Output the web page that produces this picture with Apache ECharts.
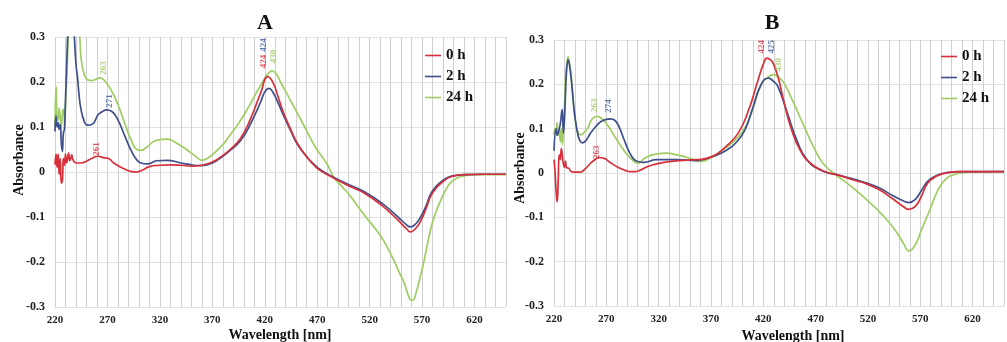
<!DOCTYPE html>
<html>
<head>
<meta charset="utf-8">
<script src="https://cdn.jsdelivr.net/npm/echarts@6/dist/echarts.min.js"></script>
<style>
html,body{margin:0;padding:0;background:#fff;}
#chart{width:1007px;height:342px;}
</style>
</head>
<body>
<div id="chart"></div>
<script>
// ---------- DATA ----------
const seriesNames = ['0 h', '2 h', '24 h'];
const xTickStep = 10;      // nm between gridlines
const xLabelStep = 50;     // nm between labels
const xMin = 220, xMax = 650;
const yMin = -0.3, yMax = 0.3, yStep = 0.1;

// Panel A
const A_0h = [[220,0.016],[221,0.04],[222,0.01],[223,0.04],[224,-0.005],[225,0.03],[226,-0.025],[227,-0.02],[228,0.03],[229,0.015],[230,0.04],[231,0.02],[233,0.042],[234,0.025],[235,0.03],[236,0.038],[237,0.028],[240,0.02],[245,0.02],[250,0.024],[255,0.03],[261,0.035],[266,0.032],[271,0.03],[276,0.02],[281,0.013],[287,0.006],[293,0.001],[298,0.0],[303,0.004],[310,0.012],[320,0.015],[330,0.016],[340,0.015],[350,0.013],[360,0.015],[370,0.022],[380,0.037],[387,0.05],[397,0.075],[406,0.116],[416,0.175],[423,0.212],[428,0.198],[433,0.165],[438,0.131],[445,0.093],[451,0.064],[460,0.034],[467,0.015],[473,0.003],[486,-0.014],[502,-0.033],[515,-0.047],[531,-0.073],[547,-0.107],[555,-0.126],[559,-0.133],[564,-0.125],[569,-0.107],[574,-0.08],[578,-0.055],[583,-0.037],[588,-0.025],[598,-0.01],[610,-0.006],[630,-0.005],[650,-0.005]];
const A_2h = [[220,0.09],[221,0.124],[222,0.1],[223,0.11],[224,0.095],[225,0.105],[226,0.064],[227,0.046],[228,0.087],[229,0.095],[230,0.16],[232,0.3],[234,0.42],[236,0.4],[238,0.32],[240,0.24],[241.5,0.209],[243,0.17],[244.6,0.142],[247.8,0.113],[251,0.104],[256,0.107],[261,0.127],[265,0.134],[269,0.138],[274,0.135],[280,0.116],[286,0.083],[293,0.046],[298,0.027],[302,0.02],[308,0.018],[317,0.025],[327,0.026],[340,0.02],[350,0.016],[359,0.014],[370,0.02],[380,0.035],[387,0.048],[397,0.07],[406,0.105],[416,0.155],[420,0.178],[424,0.186],[428,0.176],[433,0.152],[438,0.125],[445,0.09],[451,0.062],[460,0.034],[467,0.017],[473,0.005],[486,-0.012],[502,-0.03],[515,-0.044],[531,-0.068],[547,-0.1],[555,-0.117],[559,-0.122],[564,-0.115],[569,-0.098],[574,-0.074],[578,-0.05],[583,-0.033],[588,-0.022],[598,-0.009],[610,-0.006],[630,-0.005],[650,-0.005]];
const A_24h = [[220,0.1],[221,0.19],[222,0.12],[223,0.115],[224,0.142],[225,0.12],[226,0.1],[227,0.13],[228,0.14],[229,0.11],[230,0.15],[231,0.2],[233,0.32],[235,0.44],[238,0.45],[241,0.36],[243.6,0.3],[245,0.25],[248,0.216],[251,0.205],[255,0.203],[259,0.206],[263,0.209],[267,0.204],[274,0.18],[280,0.15],[287,0.105],[293,0.069],[298,0.05],[302,0.048],[308,0.056],[317,0.071],[327,0.073],[336,0.064],[346,0.049],[355,0.033],[360,0.026],[366,0.031],[378,0.056],[387,0.082],[395,0.108],[403,0.138],[411,0.172],[419,0.204],[423,0.218],[427,0.225],[431,0.218],[435,0.2],[443,0.166],[451,0.131],[459,0.096],[467,0.06],[470,0.049],[475,0.033],[480,0.015],[486,-0.012],[494,-0.033],[502,-0.055],[515,-0.096],[531,-0.144],[543,-0.196],[548,-0.222],[553,-0.247],[556,-0.268],[559,-0.284],[561,-0.285],[564,-0.27],[568,-0.235],[572,-0.196],[578,-0.129],[583,-0.09],[588,-0.062],[593,-0.038],[598,-0.022],[607,-0.01],[620,-0.006],[650,-0.006]];

// Panel B
const B_0h = [[220,0.03],[221,0.004],[222,-0.04],[223,-0.065],[224,-0.02],[225,0.041],[226,0.03],[227,0.055],[228,0.04],[229,0.02],[230,0.013],[231,0.027],[232,0.012],[234,0.011],[236,0.004],[240,0.002],[245,0.002],[250,0.01],[255,0.022],[259,0.03],[263,0.035],[268,0.033],[274,0.023],[281,0.013],[288,0.006],[293,0.003],[297,0.003],[303,0.007],[309,0.014],[317,0.02],[325,0.024],[340,0.028],[356,0.03],[371,0.037],[384,0.059],[396,0.09],[406,0.142],[415,0.21],[420,0.245],[423.5,0.259],[427,0.255],[429.4,0.248],[434,0.217],[440,0.158],[446,0.105],[455,0.052],[465,0.022],[477,0.005],[493,-0.006],[508,-0.017],[518,-0.024],[531,-0.038],[543,-0.057],[554,-0.076],[559,-0.082],[565,-0.076],[571,-0.053],[577,-0.023],[585,-0.008],[596,0.001],[608,0.003],[650,0.003]];
const B_2h = [[220,0.05],[222,0.1],[223,0.085],[225,0.1],[226,0.11],[227.8,0.143],[229,0.09],[230,0.12],[231,0.18],[232,0.23],[233.5,0.255],[235,0.24],[237,0.2],[239,0.148],[241,0.11],[243,0.085],[245,0.072],[247,0.068],[250,0.072],[255,0.09],[260,0.105],[265,0.116],[270,0.121],[274,0.122],[278,0.119],[282,0.105],[287,0.075],[292,0.047],[296,0.032],[300,0.026],[306,0.024],[318,0.03],[337,0.03],[356,0.028],[371,0.037],[384,0.05],[396,0.074],[403,0.1],[409,0.14],[418,0.2],[425,0.214],[430,0.206],[434,0.195],[443,0.135],[452,0.074],[462,0.029],[477,0.004],[493,-0.005],[508,-0.015],[518,-0.022],[531,-0.034],[543,-0.05],[554,-0.063],[559,-0.067],[565,-0.06],[571,-0.04],[577,-0.019],[585,-0.006],[596,0.001],[608,0.003],[650,0.003]];
const B_24h = [[220,0.086],[221,0.1],[222,0.095],[223,0.113],[224,0.085],[225,0.1],[226,0.07],[227,0.1],[228,0.064],[229,0.1],[230,0.15],[231,0.214],[232.5,0.25],[233.5,0.262],[235,0.245],[236,0.23],[238.7,0.154],[241,0.109],[243.4,0.09],[246,0.086],[249,0.092],[252,0.1],[256,0.12],[261,0.128],[265,0.124],[271,0.109],[277,0.086],[283,0.064],[290,0.041],[296,0.027],[300,0.022],[307,0.034],[318,0.043],[328,0.045],[337,0.041],[346,0.036],[356,0.028],[360,0.026],[368,0.032],[381,0.052],[393,0.074],[403,0.104],[410,0.145],[418,0.2],[424,0.215],[430,0.222],[435,0.215],[440,0.202],[449,0.158],[459,0.105],[468,0.059],[477,0.022],[487,0.0],[496,-0.016],[508,-0.038],[521,-0.065],[534,-0.095],[546,-0.129],[554,-0.159],[559,-0.176],[565,-0.163],[571,-0.129],[579,-0.084],[587,-0.038],[595,-0.012],[602,-0.004],[615,0.002],[650,0.003]];

// Peak annotations: [text, wavelength, absorbance position, series index]
const peaksA = [['261',259.4,0.051,0],['271',272.2,0.158,1],['263',266.2,0.231,2],['424',418.6,0.282,1],['424',418.6,0.2456,0],['430',428.1,0.2567,2]];
const peaksB = [['263',259.3,0.153,2],['274',272.3,0.151,1],['263',261.1,0.047,0],['424',418.8,0.285,0],['425',428.1,0.285,1],['430',434.3,0.244,2]];

const panelTitles = ['A', 'B'];
const xAxisTitle = 'Wavelength [nm]';
const yAxisTitle = 'Absorbance';

// ---------- STYLE ----------
const colors = ['#d7303a', '#3e4f8b', '#9fcd62'];
const labelColors = ['#d23040', '#3e5a9a', '#9cc85c'];
const serif = "'Liberation Serif','Times New Roman',serif";

const chart = echarts.init(document.getElementById('chart'), null, {renderer:'canvas'});

function xAxisFor(gi){
  return {
    type:'value', gridIndex:gi, min:xMin, max:xMax, interval:xTickStep,
    axisLine:{show:false}, axisTick:{show:false},
    axisLabel:{
      margin:8, color:'#222', fontFamily:serif, fontWeight:'bold', fontSize:11,
      formatter: v => ((v - xMin) % xLabelStep === 0 && v < xMax) ? String(v) : ''
    },
    splitLine:{show:true, lineStyle:{color:'#d0d0d0', width:1}}
  };
}
function yAxisFor(gi){
  return {
    type:'value', gridIndex:gi, min:yMin, max:yMax, interval:yStep,
    axisLine:{show:false}, axisTick:{show:false},
    axisLabel:{
      margin:10, color:'#222', fontFamily:serif, fontWeight:'bold', fontSize:12,
      formatter: v => { const r = Math.round(v*10)/10; return r === 0 ? '0' : r.toFixed(1); }
    },
    splitLine:{show:true, lineStyle:{color:'#e2e2e2', width:1}}
  };
}
function lineSeries(name, data, ci, gi){
  return {
    type:'line', name:name, data:data, xAxisIndex:gi, yAxisIndex:gi,
    smooth:0.5, showSymbol:false, symbol:'none', clip:true,
    lineStyle:{color:colors[ci], width:1.7}, itemStyle:{color:colors[ci]},
    z:3 + (2-ci)
  };
}
function peakSeries(peaks, gi){
  return {
    type:'scatter', xAxisIndex:gi, yAxisIndex:gi, symbolSize:0, silent:true, z:10,
    data: peaks.map(p => ({
      value:[p[1], p[2]], name:p[0],
      label:{
        show:true, position:'inside', rotate:90, formatter:p[0],
        color:labelColors[p[3]], fontFamily:serif, fontWeight:'bold', fontSize:9,
        align:'center', verticalAlign:'middle'
      }
    }))
  };
}
function legendFor(left, top){
  return {
    orient:'vertical', left:left, top:top, itemWidth:16, itemHeight:10, itemGap:6,
    data: seriesNames,
    textStyle:{fontFamily:serif, fontWeight:'bold', fontSize:15, color:'#111'},
    icon:'path://M0,5 L16,5 L16,6.6 L0,6.6 Z'
  };
}
function textEl(text, x, y, size, rot){
  return {
    type:'text', x:x, y:y, rotation: rot || 0, silent:true,
    style:{text:text, fill:'#111', font:'bold ' + size + 'px ' + serif, textAlign:'center', textVerticalAlign:'middle'}
  };
}

const option = {
  backgroundColor:'#fff',
  animation:false,
  grid:[
    {left:55, top:37, width:451, height:270},
    {left:554, top:40, width:460, height:266}
  ],
  xAxis:[xAxisFor(0), xAxisFor(1)],
  yAxis:[yAxisFor(0), yAxisFor(1)],
  legend:[legendFor(420, 43), legendFor(936, 44)],
  graphic:[
    textEl(panelTitles[0], 265, 23, 22),
    textEl(panelTitles[1], 772, 23, 22),
    textEl(yAxisTitle, 19, 160, 14, Math.PI/2),
    textEl(yAxisTitle, 520, 168, 14, Math.PI/2),
    textEl(xAxisTitle, 280, 335, 14),
    textEl(xAxisTitle, 793, 336, 14)
  ],
  series:[
    lineSeries(seriesNames[0], A_0h, 0, 0),
    lineSeries(seriesNames[1], A_2h, 1, 0),
    lineSeries(seriesNames[2], A_24h, 2, 0),
    lineSeries(seriesNames[0], B_0h, 0, 1),
    lineSeries(seriesNames[1], B_2h, 1, 1),
    lineSeries(seriesNames[2], B_24h, 2, 1),
    peakSeries(peaksA, 0),
    peakSeries(peaksB, 1)
  ]
};
chart.setOption(option);
</script>
</body>
</html>
